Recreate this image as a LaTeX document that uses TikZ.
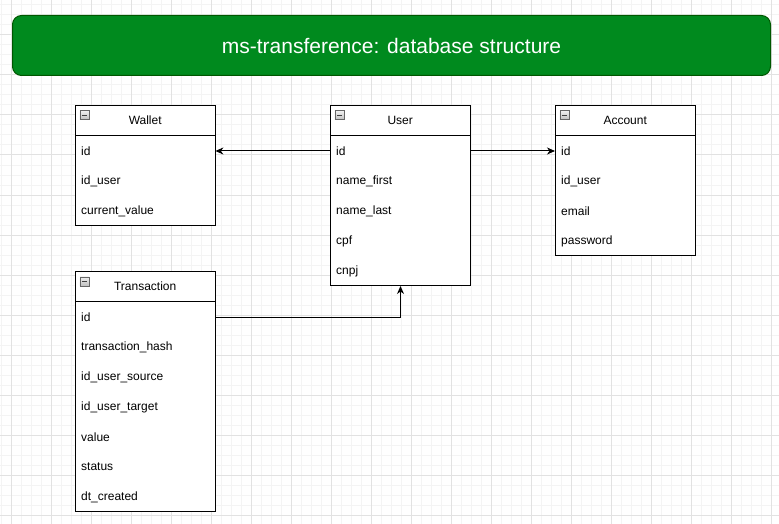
\documentclass[tikz,border=0pt]{standalone}
\usepackage{fontspec}
\setmainfont{Liberation Sans}
\usetikzlibrary{arrows.meta,calc}
\definecolor{titlegreen}{HTML}{008A1E}
\definecolor{titleborder}{HTML}{005700}
\definecolor{gridminor}{HTML}{F4F4F4}
\definecolor{gridmajor}{HTML}{E2E2E2}
\tikzset{
  fld/.style={anchor=north west, minimum height=30pt, inner xsep=6pt, inner ysep=0pt, text width=128pt, align=left, font=\fontsize{12}{14}\selectfont},
  hdr/.style={anchor=north west, minimum height=30pt, minimum width=140pt, inner sep=0pt, font=\fontsize{12}{14}\selectfont},
  tblbox/.style={anchor=north west, draw=black, line width=1pt, minimum width=140pt, inner sep=0pt},
  icon/.style={anchor=north west, draw=gray!80!black, line width=0.6pt, top color=gray!12, bottom color=gray!50, minimum size=9pt, inner sep=0pt, path picture={\draw[line width=1pt, black!75] ([xshift=2pt]path picture bounding box.west) -- ([xshift=-2pt]path picture bounding box.east);}},
  link/.style={draw=black, line width=1pt, -{Stealth[length=8pt,width=7pt,inset=2.5pt]}},
  titlebox/.style={anchor=north west, draw=titleborder, fill=titlegreen, rounded corners=9pt, line width=1pt, minimum width=758pt, minimum height=60pt, text=white, font=\fontsize{21}{25}\selectfont},
}
% name, x, y, number of rows, title, fields
\newcommand{\dbtable}[6]{%
  \node[tblbox, fill=white, minimum height={30*(#4+1)}] (#1) at (#2,#3) {};
  \node[hdr] (#1-h) at (#2,#3) {#5};
  \draw[line width=1pt] (#1-h.south west) -- (#1-h.south east);
  \node[icon] (#1-icon) at ([shift={(4.5,5.5)}]#1.north west) {};
  \foreach \f [count=\i] in {#6} {\node[fld] (#1-\i) at (#2,#3+30*\i+0.8) {\f};}
}
\begin{document}
\begin{tikzpicture}[x=1pt,y=-1pt]
\useasboundingbox (0,0) rectangle (779,524);
\fill[white] (0,0) rectangle (779,524);
\begin{scope}
  \clip (0,0) rectangle (779,524);
  \foreach \x in {1.3,11.3,...,780} {\draw[gridminor, line width=1pt] (\x,0) -- (\x,524);}
  \foreach \y in {5,15,...,525} {\draw[gridminor, line width=1pt] (0,\y) -- (779,\y);}
  \foreach \x in {11.3,51.3,...,780} {\draw[gridmajor, line width=1pt] (\x,0) -- (\x,524);}
  \foreach \y in {35,75,...,525} {\draw[gridmajor, line width=1pt] (0,\y) -- (779,\y);}
\end{scope}

\node[titlebox] (title) at (12,15) {ms-transference: database structure};

\dbtable{wallet}{75}{105}{3}{Wallet}{id, id\_user, current\_value}
\dbtable{user}{330}{105}{5}{User}{id, name\_first, name\_last, cpf, cnpj}
\dbtable{account}{555}{105}{4}{Account}{id, id\_user, email, password}
\dbtable{tx}{75}{271}{7}{Transaction}{id, transaction\_hash, id\_user\_source, id\_user\_target, value, status, dt\_created}

\draw[link] (user-1.west) -- (wallet-1.east);
\draw[link] (user-1.east) -- (account-1.west);
\draw[link] (tx-1.east) -| (user.south);
\end{tikzpicture}
\end{document}
